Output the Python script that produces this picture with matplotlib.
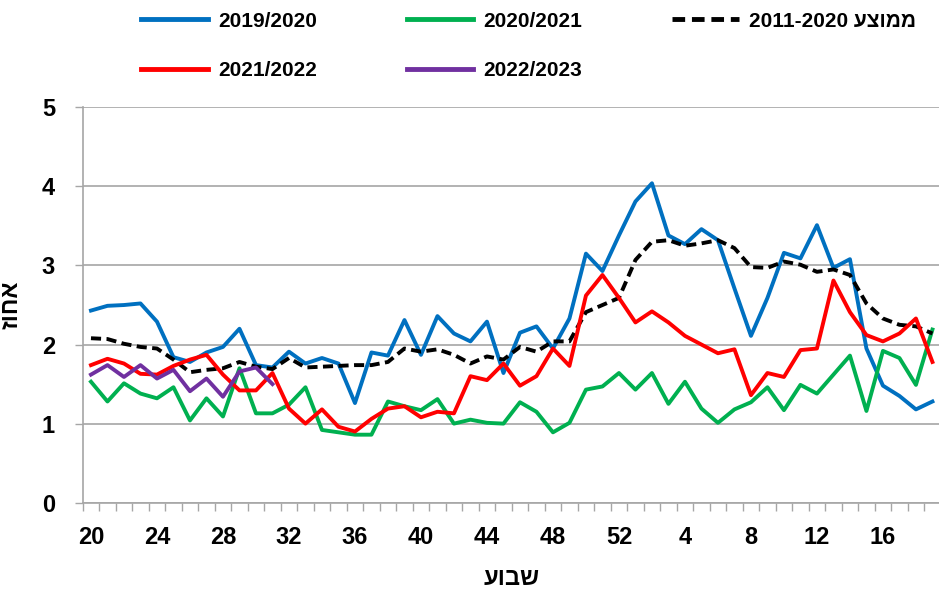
import matplotlib
matplotlib.use("Agg")
import matplotlib.pyplot as plt
from matplotlib.ticker import FixedLocator

plt.rcParams['font.family'] = ['Liberation Sans', 'DejaVu Sans']
plt.rcParams['font.weight'] = 'bold'

# weeks: 20..52, then 1..19
weeks = list(range(20, 53)) + list(range(1, 20))
tick_weeks = [20, 24, 28, 32, 36, 40, 44, 48, 52, 4, 8, 12, 16]

s2019 = [2.43, 2.49, 2.50, 2.52, 2.29, 1.84, 1.78, 1.90, 1.97, 2.20,
         1.74, 1.71, 1.91, 1.76, 1.83, 1.76, 1.26, 1.90, 1.86, 2.31,
         1.87, 2.36, 2.14, 2.04, 2.29, 1.64, 2.15, 2.23, 1.95, 2.33,
         3.15, 2.93, 3.38, 3.81, 4.04, 3.38, 3.27, 3.46, 3.32, 2.71,
         2.11, 2.59, 3.16, 3.09, 3.51, 2.97, 3.08, 1.95, 1.48, 1.35,
         1.18, 1.28]
s2020 = [1.53, 1.28, 1.51, 1.38, 1.32, 1.46, 1.04, 1.32, 1.09, 1.70,
         1.13, 1.13, 1.24, 1.46, 0.92, 0.89, 0.86, 0.86, 1.28, 1.22,
         1.17, 1.31, 1.00, 1.05, 1.01, 1.00, 1.27, 1.15, 0.89, 1.01,
         1.43, 1.47, 1.64, 1.43, 1.64, 1.25, 1.53, 1.19, 1.01, 1.18,
         1.27, 1.46, 1.17, 1.49, 1.38, 1.62, 1.86, 1.16, 1.92, 1.83,
         1.49, 2.19]
avg = [2.08, 2.07, 2.01, 1.97, 1.95, 1.81, 1.65, 1.68, 1.70, 1.78,
       1.72, 1.69, 1.83, 1.71, 1.72, 1.73, 1.74, 1.74, 1.78, 1.95,
       1.91, 1.94, 1.87, 1.76, 1.85, 1.81, 1.97, 1.91, 2.04, 2.04,
       2.41, 2.50, 2.59, 3.07, 3.30, 3.32, 3.25, 3.28, 3.32, 3.22,
       2.98, 2.97, 3.05, 3.01, 2.92, 2.95, 2.88, 2.52, 2.33, 2.25,
       2.23, 2.14]
s2021 = [1.74, 1.82, 1.76, 1.63, 1.62, 1.73, 1.81, 1.87, 1.62, 1.42,
         1.42, 1.64, 1.19, 1.00, 1.18, 0.96, 0.90, 1.06, 1.19, 1.22,
         1.08, 1.15, 1.13, 1.60, 1.55, 1.76, 1.48, 1.60, 1.95, 1.73,
         2.62, 2.88, 2.59, 2.28, 2.42, 2.28, 2.11, 2.00, 1.89, 1.94,
         1.36, 1.64, 1.59, 1.93, 1.95, 2.81, 2.41, 2.12, 2.04, 2.14,
         2.33, 1.78]
s2022 = [1.62, 1.74, 1.59, 1.74, 1.57, 1.68, 1.41, 1.57, 1.34, 1.66,
         1.71, 1.50]

x = list(range(len(weeks)))

fig = plt.figure(figsize=(9.39, 5.90), dpi=100)
ax = fig.add_axes([0.0881, 0.148, 0.9137, 0.670])

l1, = ax.plot(x, s2019, color='#0070C0', lw=2.8, label='2019/2020')
l2, = ax.plot(x, s2020, color='#00B050', lw=2.8, label='2020/2021')
l3, = ax.plot(x, avg, color='black', lw=2.8, ls=(0, (2.6, 1.4)),
              label='2011-2020 עצוממ')
l4, = ax.plot(x, s2021, color='#FF0000', lw=2.8, label='2021/2022')
l5, = ax.plot(x[:len(s2022)], s2022, color='#7030A0', lw=2.8, label='2022/2023')

ax.set_xlim(-0.5, len(weeks) - 0.5)
ax.set_ylim(0, 5)
ax.set_yticks([0, 1, 2, 3, 4, 5])
ax.yaxis.grid(True, color='#A6A6A6', lw=1.2)
ax.set_axisbelow(True)

ax.set_xticks([weeks.index(w) for w in tick_weeks])
ax.set_xticklabels([str(w) for w in tick_weeks])
ax.xaxis.set_minor_locator(FixedLocator([i - 0.5 for i in range(len(weeks) + 1)]))
ax.tick_params(axis='x', which='major', length=0, pad=17, labelsize=17)
ax.tick_params(axis='x', which='minor', length=5.5, width=1, color='#A6A6A6', direction='out')
ax.tick_params(axis='y', length=6, width=1, color='#A6A6A6', pad=14, labelsize=17)

for side in ['top', 'right']:
    ax.spines[side].set_visible(False)
for side in ['left', 'bottom']:
    ax.spines[side].set_color('#A6A6A6')
    ax.spines[side].set_linewidth(1.2)

ax.set_xlabel('עובש', fontsize=17, fontweight='bold', labelpad=13)
ax.set_ylabel('זוחא', fontsize=17, fontweight='bold', labelpad=14)

leg = fig.legend(handles=[l1, l4, l2, l5, l3], ncol=3, loc='upper center',
                 bbox_to_anchor=(0.563, 1.012), frameon=False,
                 prop={'size': 15, 'weight': 'bold'},
                 handlelength=3.2, handletextpad=0.5, columnspacing=4.3,
                 labelspacing=1.45)
for h in leg.legend_handles:
    h.set_linewidth(3.5)

fig.savefig('out.png', dpi=100)
